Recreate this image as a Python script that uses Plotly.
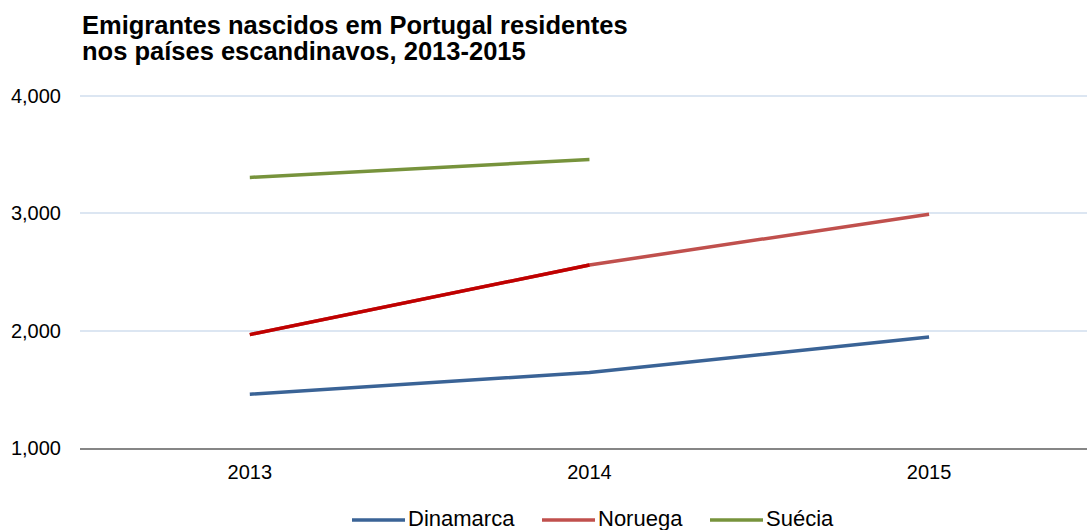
import plotly.graph_objects as go

years = ["2013", "2014", "2015"]
dinamarca = [1458, 1644, 1946]
noruega = [1966, 2559, 2992]
suecia = [3305, 3458, None]
y_ticks = [1000, 2000, 3000, 4000]
y_tick_labels = ["1,000", "2,000", "3,000", "4,000"]
title_lines = ["Emigrantes nascidos em Portugal residentes",
               "nos países escandinavos, 2013-2015"]
series_names = ["Dinamarca", "Noruega", "Suécia"]
series_colors = ["#3A6396", "#C0504D", "#77933C"]

# layout geometry (pixels)
W, H = 1087, 530
L, R, T, B = 80, 0, 93, 82
PW, PH = W - L - R, H - T - B


def px_x(x):
    return (x - L) / PW


def px_y(y):
    return (H - B - y) / PH


fig = go.Figure()
for name, vals, col in zip(series_names, [dinamarca, noruega, suecia], series_colors):
    fig.add_trace(go.Scatter(x=years, y=vals, name=name, mode="lines",
                             line=dict(color=col, width=3.5), showlegend=False))
# first Noruega segment is drawn in a darker red in the original
fig.add_trace(go.Scatter(x=years[:2], y=noruega[:2], name="Noruega", mode="lines",
                         showlegend=False, line=dict(color="#C00000", width=3.5)))

for line, ypx in zip(title_lines, [25, 51]):
    fig.add_annotation(text="<b>%s</b>" % line, x=px_x(80), xref="paper", xanchor="left",
                       y=px_y(ypx), yref="paper", yanchor="middle", showarrow=False,
                       font=dict(size=25.5, color="#000000"))

# legend drawn below the plot
legend_pos = [(352, 405), (542, 595), (710, 763)]
for name, col, (x0, x1) in zip(series_names, series_colors, legend_pos):
    fig.add_shape(type="line", xref="paper", yref="paper",
                  x0=px_x(x0), x1=px_x(x1), y0=px_y(520), y1=px_y(520),
                  line=dict(color=col, width=3.5))
    fig.add_annotation(text=name, x=px_x(x1 + 1), xref="paper", xanchor="left",
                       y=px_y(518), yref="paper", yanchor="middle", showarrow=False,
                       font=dict(size=22, color="#000000"))

fig.update_layout(
    width=W, height=H,
    margin=dict(l=L, r=R, t=T, b=B),
    plot_bgcolor="white", paper_bgcolor="white",
    font=dict(family="Liberation Sans, Arial, sans-serif", size=20, color="#000000"),
    showlegend=False,
    xaxis=dict(type="category", range=[-0.5, 2.465], showgrid=False, automargin=False,
               showline=True, linecolor="#868686", linewidth=2, ticks="",
               ticklabelstandoff=5, tickfont=dict(size=20), fixedrange=True),
    yaxis=dict(range=[1000, 4024], tickvals=y_ticks, ticktext=y_tick_labels, automargin=False,
               showgrid=True, gridcolor="#DCE6F2", gridwidth=2, zeroline=False,
               showline=False, ticks="", ticklabelstandoff=18, tickfont=dict(size=20)),
)

fig.write_html("out.html", config={"displayModeBar": False},
               post_script="document.body.style.margin='0';document.body.style.overflow='hidden';")
